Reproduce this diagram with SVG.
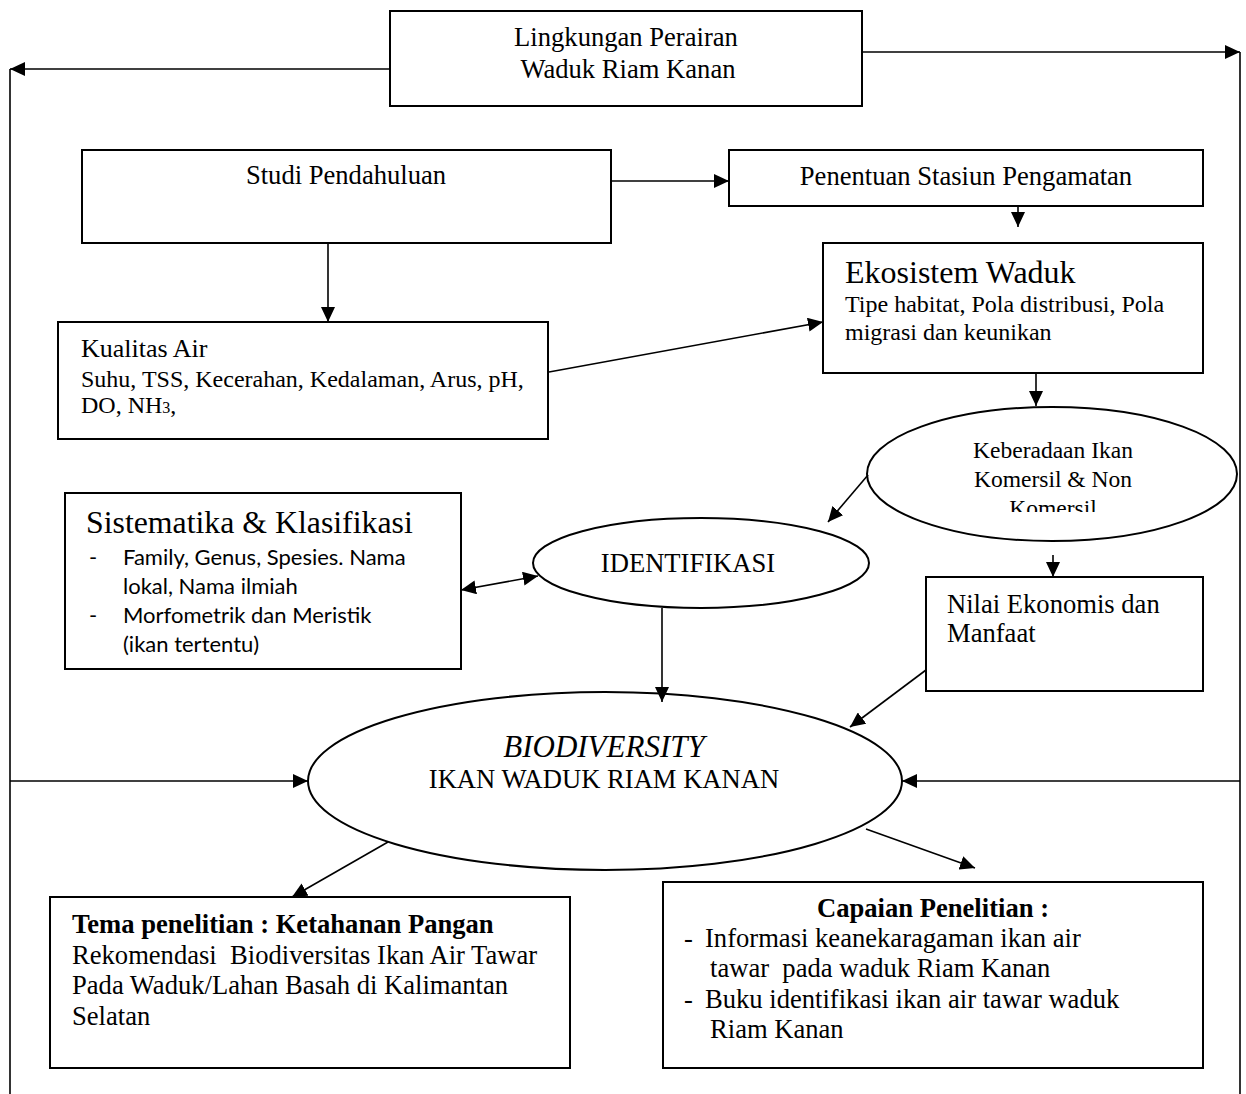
<svg xmlns="http://www.w3.org/2000/svg" width="1246" height="1094" viewBox="0 0 1246 1094">
<defs>
<style>
.box{fill:#fff;stroke:#000;stroke-width:2}
.ell{fill:#fff;stroke:#000;stroke-width:2}
.con{fill:none;stroke:#000;stroke-width:1.6}
.arr{marker-end:url(#ah)}
.t{font-family:"Liberation Serif","Times New Roman",serif;fill:#000;white-space:pre}
.m{text-anchor:middle}
.s{font-family:Lato,"Liberation Sans",sans-serif;fill:#000;white-space:pre;font-size:22px}
</style>
<marker id="ah" viewBox="0 0 15 14" refX="15" refY="7" markerWidth="15" markerHeight="14" markerUnits="userSpaceOnUse" orient="auto-start-reverse">
<path d="M0,0 L15,7 L0,14 z" fill="#000"/>
</marker>
<clipPath id="kclip"><rect x="860" y="400" width="390" height="112"/></clipPath>
</defs>
<rect width="1246" height="1094" fill="#fff"/>

<g id="lingkungan">
<rect class="box" x="390" y="11" width="472" height="95"/>
<text class="t m" x="626" y="46" font-size="26.6">Lingkungan Perairan</text>
<text class="t m" x="628" y="78" font-size="26.6">Waduk Riam Kanan</text>
</g>

<g id="studi">
<rect class="box" x="82" y="150" width="529" height="93"/>
<text class="t m" x="346" y="184" font-size="26.6">Studi Pendahuluan</text>
</g>

<g id="penentuan">
<rect class="box" x="729" y="150" width="474" height="56"/>
<text class="t m" x="966" y="185" font-size="26.6">Penentuan Stasiun Pengamatan</text>
</g>

<g id="ekosistem">
<rect class="box" x="823" y="243" width="380" height="130"/>
<text class="t" x="845" y="283" font-size="32">Ekosistem Waduk</text>
<text class="t" x="845" y="312" font-size="24">Tipe habitat, Pola distribusi, Pola</text>
<text class="t" x="845" y="340" font-size="24">migrasi dan keunikan</text>
</g>

<g id="kualitas">
<rect class="box" x="58" y="322" width="490" height="117"/>
<text class="t" x="81" y="357" font-size="26">Kualitas Air</text>
<text class="t" x="81" y="387" font-size="24">Suhu, TSS, Kecerahan, Kedalaman, Arus, pH,</text>
<text class="t" x="81" y="413" font-size="24">DO, NH<tspan font-size="16">3</tspan>,</text>
</g>

<g id="keberadaan">
<ellipse class="ell" cx="1052" cy="474" rx="185" ry="67"/>
<text class="t m" x="1053" y="458" font-size="23.5">Keberadaan Ikan</text>
<text class="t m" x="1053" y="487" font-size="23.5">Komersil &amp; Non</text>
<text class="t m" x="1053" y="516" font-size="23.5" clip-path="url(#kclip)">Komersil</text>
</g>

<g id="sistematika">
<rect class="box" x="65" y="493" width="396" height="176"/>
<text class="t" x="86" y="533" font-size="31.8">Sistematika &amp; Klasifikasi</text>
<text class="s" x="89" y="565">-</text>
<text class="s" x="123" y="565">Family, Genus, Spesies. Nama</text>
<text class="s" x="123" y="594">lokal, Nama ilmiah</text>
<text class="s" x="89" y="623">-</text>
<text class="s" x="123" y="623">Morfometrik dan Meristik</text>
<text class="s" x="123" y="652">(ikan tertentu)</text>
</g>

<g id="identifikasi">
<ellipse class="ell" cx="701" cy="563" rx="168" ry="45"/>
<text class="t m" x="688" y="572" font-size="26.6">IDENTIFIKASI</text>
</g>

<g id="nilai">
<rect class="box" x="926" y="577" width="277" height="114"/>
<text class="t" x="947" y="613" font-size="26.6">Nilai Ekonomis dan</text>
<text class="t" x="947" y="642" font-size="26.6">Manfaat</text>
</g>

<g id="biodiversity">
<ellipse class="ell" cx="605" cy="781" rx="297" ry="89"/>
<text class="t m" x="604" y="757" font-size="31" font-style="italic">BIODIVERSITY</text>
<text class="t m" x="604" y="788" font-size="26.6">IKAN WADUK RIAM KANAN</text>
</g>

<g id="tema">
<rect class="box" x="50" y="897" width="520" height="171"/>
<text class="t" x="72" y="933" font-size="26.6" font-weight="bold">Tema penelitian : Ketahanan Pangan</text>
<text class="t" x="72" y="964" font-size="26.6">Rekomendasi  Biodiversitas Ikan Air Tawar</text>
<text class="t" x="72" y="994" font-size="26.6">Pada Waduk/Lahan Basah di Kalimantan</text>
<text class="t" x="72" y="1025" font-size="26.6">Selatan</text>
</g>

<g id="capaian">
<rect class="box" x="663" y="882" width="540" height="186"/>
<text class="t m" x="933" y="917" font-size="26.6" font-weight="bold">Capaian Penelitian :</text>
<text class="t" x="684" y="947" font-size="26.6">-</text>
<text class="t" x="705" y="947" font-size="26.6">Informasi keanekaragaman ikan air</text>
<text class="t" x="710" y="977" font-size="26.6">tawar  pada waduk Riam Kanan</text>
<text class="t" x="684" y="1008" font-size="26.6">-</text>
<text class="t" x="705" y="1008" font-size="26.6">Buku identifikasi ikan air tawar waduk</text>
<text class="t" x="710" y="1038" font-size="26.6">Riam Kanan</text>
</g>

<g id="connectors">
<path class="con arr" d="M390,69 H10"/>
<path class="con" d="M10,69 V1094"/>
<path class="con arr" d="M862,52 H1240"/>
<path class="con" d="M1240,52 V1094"/>
<path class="con arr" d="M611,181 H729"/>
<path class="con arr" d="M1018,206 V227"/>
<path class="con arr" d="M328,243 V322"/>
<path class="con arr" d="M549,372 L823,322"/>
<path class="con arr" d="M1036,373 V406"/>
<path class="con arr" d="M868,475 L828,522"/>
<path class="con" d="M461,590 L538,576" marker-start="url(#ah)" marker-end="url(#ah)"/>
<path class="con arr" d="M1053,555 V577"/>
<path class="con arr" d="M662,608 V702"/>
<path class="con arr" d="M926,670 L850,727"/>
<path class="con arr" d="M10,781 H308"/>
<path class="con arr" d="M1240,781 H902"/>
<path class="con arr" d="M388,842 L292,897"/>
<path class="con arr" d="M866,829 L975,868"/>
</g>
</svg>
